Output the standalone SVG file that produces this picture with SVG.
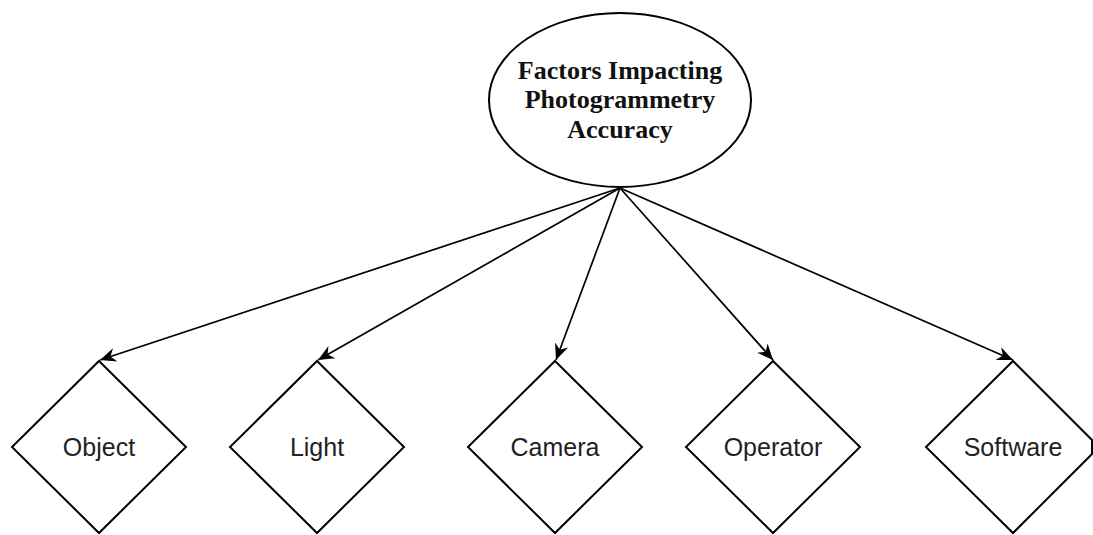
<svg xmlns="http://www.w3.org/2000/svg" width="1093" height="535" viewBox="0 0 1093 535">
<style>
.shape{fill:#fff;stroke:#000;stroke-width:2}
.edge{fill:none;stroke:#000;stroke-width:1.7}
.title{font-family:"Liberation Serif","Times New Roman",serif;font-weight:bold;font-size:26px;fill:#111;text-anchor:middle}
.lbl{font-family:"Liberation Sans",Arial,sans-serif;font-size:25px;fill:#222;text-anchor:middle}
</style>
<defs>
<marker id="arr" markerUnits="userSpaceOnUse" markerWidth="18" markerHeight="16" refX="16" refY="7" orient="auto" viewBox="0 0 18 14">
<path d="M0,0 L16,7 L0,14 L5,7 Z" fill="#000"/>
</marker>
</defs>
<g id="connectors">
<line class="edge" x1="620" y1="188" x2="100" y2="360" marker-end="url(#arr)"/>
<line class="edge" x1="620" y1="188" x2="318" y2="360" marker-end="url(#arr)"/>
<line class="edge" x1="620" y1="188" x2="556" y2="360" marker-end="url(#arr)"/>
<line class="edge" x1="620" y1="188" x2="773" y2="360" marker-end="url(#arr)"/>
<line class="edge" x1="620" y1="188" x2="1013" y2="360" marker-end="url(#arr)"/>
</g>
<g id="root">
<ellipse class="shape" cx="620" cy="100" rx="131" ry="87"/>
<text class="title" x="620" y="79">Factors Impacting</text>
<text class="title" x="620" y="108">Photogrammetry</text>
<text class="title" x="620" y="138">Accuracy</text>
</g>
<g id="object">
<polygon class="shape" points="99,361 186,447 99,533 12,447"/>
<text class="lbl" x="99" y="456">Object</text>
</g>
<g id="light">
<polygon class="shape" points="317,361 404,447 317,533 230,447"/>
<text class="lbl" x="317" y="456">Light</text>
</g>
<g id="camera">
<polygon class="shape" points="555,361 642,447 555,533 468,447"/>
<text class="lbl" x="555" y="456">Camera</text>
</g>
<g id="operator">
<polygon class="shape" points="773,361 860,447 773,533 686,447"/>
<text class="lbl" x="773" y="456">Operator</text>
</g>
<g id="software">
<polygon class="shape" points="1013,361 1092,440 1092,454 1013,533 926,447"/>
<text class="lbl" x="1013" y="456">Software</text>
</g>
</svg>
